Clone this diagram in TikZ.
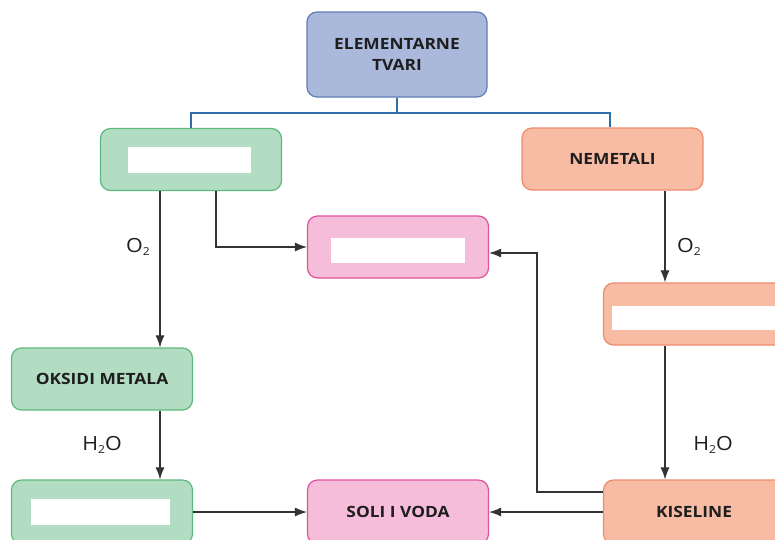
\documentclass[tikz,border=0pt]{standalone}
\usepackage{fontspec}
\setmainfont{Open Sans}
\newfontfamily\boxfont[FakeStretch=1.12]{Open Sans}
\newfontfamily\lblfont[FakeStretch=1.1]{Open Sans}
\usetikzlibrary{arrows.meta}
\definecolor{topfill}{HTML}{AAB8DC}
\definecolor{topdraw}{HTML}{5F7DB5}
\definecolor{grfill}{HTML}{B3DDC2}
\definecolor{grdraw}{HTML}{5DB87C}
\definecolor{safill}{HTML}{F8BCA4}
\definecolor{sadraw}{HTML}{EE8B6E}
\definecolor{pkfill}{HTML}{F6BDDA}
\definecolor{pkdraw}{HTML}{DF519D}
\definecolor{linkblue}{HTML}{2F6FA8}
\definecolor{linegray}{HTML}{333333}
\definecolor{txt}{HTML}{1E1E1E}
\newcommand{\lowsub}[1]{\raisebox{-3pt}{\fontsize{11}{12}\selectfont #1}}
\tikzset{
  box/.style={rounded corners=10pt, minimum width=181pt, minimum height=62pt, line width=1.2pt,
    inner sep=0pt, align=center, text=txt, font=\boxfont\bfseries\fontsize{15.5}{21}\selectfont},
  topbox/.style={box, fill=topfill, draw=topdraw, minimum width=180pt, minimum height=85pt},
  grbox/.style={box, fill=grfill, draw=grdraw},
  sabox/.style={box, fill=safill, draw=sadraw},
  pkbox/.style={box, fill=pkfill, draw=pkdraw},
  blank/.style={fill=white, draw=none, inner sep=0pt},
  arr/.style={draw=linegray, line width=1.1pt, -{Latex[length=12pt,width=9pt]}},
  tree/.style={draw=linkblue, line width=1.6pt},
  lbl/.style={text=txt, font=\lblfont\fontsize{19.5}{22}\selectfont, inner sep=0pt}
}
\begin{document}
\begin{tikzpicture}[x=1pt,y=-1pt]
\useasboundingbox (0,0) rectangle (775,539);
\clip (0,0) rectangle (775,539);
% boxes
\node[topbox] (top) at (397,54.5) {ELEMENTARNE\\TVARI};
\node[grbox] (g1) at (191,159.5) {};
\node[blank, minimum width=123pt, minimum height=26pt] (w1) at (189.5,160) {};
\node[sabox] (nem) at (612.5,159) {NEMETALI};
\node[pkbox] (p1) at (398,247) {};
\node[blank, minimum width=134pt, minimum height=25pt] (w2) at (398,250.5) {};
\node[sabox] (s2) at (694,314) {};
\node[blank, minimum width=164pt, minimum height=24pt] (w3) at (694,318) {};
\node[grbox] (ox) at (102,379) {OKSIDI METALA};
\node[grbox, minimum height=64pt] (g3) at (102,512) {};
\node[blank, minimum width=139pt, minimum height=26pt] (w4) at (100.5,512) {};
\node[pkbox, minimum height=64pt] (soli) at (398,512) {SOLI I VODA};
\node[sabox, minimum height=64pt] (kis) at (694,512) {KISELINE};
% tree connector
\coordinate (j) at (397,113);
\draw[tree] (top.south) -- (j);
\draw[tree] (g1.north) |- (j) -| ([xshift=-2.5pt]nem.north);
% arrows
\coordinate (a1) at ([xshift=-31pt]g1.south);
\draw[arr] (a1) -- (a1 |- ox.north);
\coordinate (a2) at ([xshift=25pt]g1.south);
\draw[arr] (a2) |- (p1.west);
\coordinate (a3) at ([xshift=52.5pt]nem.south);
\draw[arr] (a3) -- (a3 |- s2.north);
\draw[arr] (a3 |- s2.south) -- (a3 |- kis.north);
\coordinate (a4) at ([xshift=58pt]ox.south);
\draw[arr] (a4) -- (a4 |- g3.north);
\draw[arr] (g3.east) -- (soli.west);
\draw[arr] (kis.west) -- (soli.east);
\coordinate (a5) at ([yshift=20pt]kis.west);
\coordinate (a6) at ([yshift=-6pt]p1.east);
\coordinate (bx) at (537,300);
\draw[arr] (a5) -- (a5 -| bx) |- (a6);
% labels
\node[lbl] (l1) at (138,247) {O\lowsub{2}};
\node[lbl] (l2) at (689,247) {O\lowsub{2}};
\node[lbl] (l3) at (102,445) {H\lowsub{2}O};
\node[lbl] (l4) at (713,445) {H\lowsub{2}O};
\end{tikzpicture}
\end{document}
